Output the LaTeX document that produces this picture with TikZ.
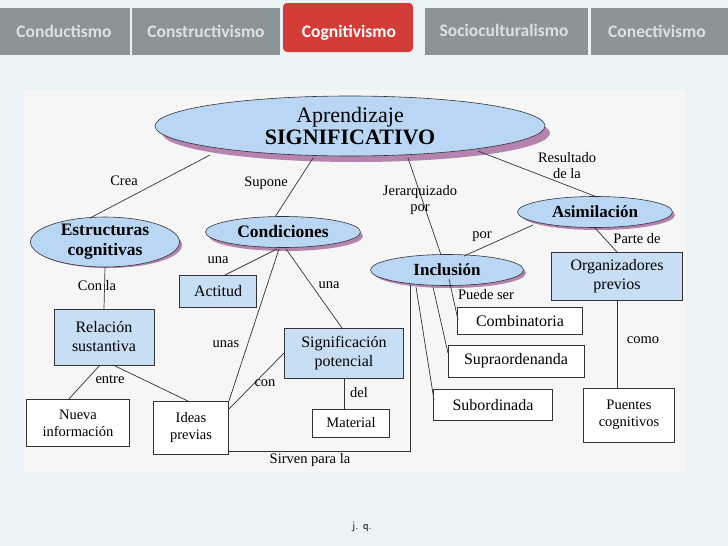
\documentclass[tikz,border=0pt]{standalone}
\usepackage{fontspec}
\setmainfont{Liberation Serif}
\newfontfamily\tabfont{Carlito}
\usetikzlibrary{shapes.geometric}
\definecolor{bg}{HTML}{EAF4F6}
\definecolor{card}{HTML}{F6F6F6}
\definecolor{tabg}{HTML}{8C9595}
\definecolor{tabtxt}{HTML}{DCE2E2}
\definecolor{tabred}{HTML}{D43C38}
\definecolor{ellf}{HTML}{B9D7F4}
\definecolor{recf}{HTML}{C8DEF5}
\definecolor{shad}{HTML}{B483AE}
\definecolor{ln}{HTML}{333333}
\begin{document}
\begin{tikzpicture}[x=1pt,y=-1pt,
  tab/.style={fill=tabg,draw=none},
  tabt/.style={font=\tabfont\bfseries\fontsize{17.5}{17}\selectfont,text=tabtxt},
  ell/.style={ellipse,draw=ln,fill=ellf,inner sep=0pt,line width=0.6pt},
  shd/.style={ellipse,fill=shad,draw=none,inner sep=0pt},
  bx/.style={draw=ln,fill=recf,line width=0.8pt,inner sep=0pt,align=center,font=\fontsize{16}{19}\selectfont},
  wbx/.style={draw=ln,fill=white,line width=0.8pt,inner sep=0pt,align=center,font=\fontsize{14.5}{17}\selectfont},
  lab/.style={font=\fontsize{14.5}{16}\selectfont,align=center,inner sep=0pt,fill=card},
  cn/.style={draw=ln,line width=0.7pt}]
\fill[bg] (0,0) rectangle (728,546);
\useasboundingbox (0,0) rectangle (728,546);
% tabs
\fill[tab] (0,8) rectangle (130,55);
\fill[tab] (132,8) rectangle (280,55);
\fill[tab] (425,8) rectangle (588,55);
\fill[tab] (591,8) rectangle (728,55);
\fill[tabred,rounded corners=4pt] (283,3) rectangle (413,52);
\node[tabt] (t1) at (64,31) {Conductismo};
\node[tabt] (t2) at (206,31) {Constructivismo};
\node[tabt,text=white] (t3) at (349,33) {Cognitivismo};
\node[tabt] (t4) at (504,30) {Socioculturalismo};
\node[tabt] (t5) at (657,31) {Conectivismo};
% card
\fill[card] (24,90) rectangle (686,472);
% ellipses
\node[shd,minimum width=388pt,minimum height=58pt] at (356,133) {};
\node[ell,minimum width=390pt,minimum height=60pt,align=center] (main) at (350,126)
  {\fontsize{22}{22}\selectfont Aprendizaje\\[1pt]\fontsize{22}{22}\selectfont\bfseries SIGNIFICATIVO};
\node[shd,minimum width=148pt,minimum height=46pt] at (108,245) {};
\node[ell,minimum width=149pt,minimum height=48pt,align=center,font=\bfseries\fontsize{17.5}{20}\selectfont] (est) at (105,242) {Estructuras\\cognitivas};
\node[shd,minimum width=154pt,minimum height=30pt] at (286,236) {};
\node[ell,minimum width=155pt,minimum height=31pt,font=\bfseries\fontsize{17.5}{20}\selectfont] (con) at (283,232) {Condiciones};
\node[shd,minimum width=154pt,minimum height=30pt] at (598,215) {};
\node[ell,minimum width=155pt,minimum height=31pt,font=\bfseries\fontsize{17}{20}\selectfont] (asi) at (595,212) {Asimilación};
\node[shd,minimum width=152pt,minimum height=30pt] at (450,273) {};
\node[ell,minimum width=153pt,minimum height=31pt,font=\bfseries\fontsize{17}{20}\selectfont] (inc) at (447,270) {Inclusión};
% boxes
\node[bx,minimum width=77pt,minimum height=32pt] (act) at (218,291) {Actitud};
\node[bx,minimum width=100pt,minimum height=56pt] (rel) at (104,337) {Relación\\sustantiva};
\node[wbx,minimum width=103pt,minimum height=47pt] (nue) at (78,423) {Nueva\\información};
\node[wbx,minimum width=75pt,minimum height=53pt] (ide) at (191,428) {Ideas\\previas};
\node[bx,minimum width=119pt,minimum height=50pt] (sig) at (344,353) {Significación\\potencial};
\node[wbx,minimum width=77pt,minimum height=28pt] (mat) at (351,423) {Material};
\node[bx,minimum width=131pt,minimum height=48pt] (org) at (617,276) {Organizadores\\previos};
\node[wbx,minimum width=125pt,minimum height=27pt,font=\fontsize{16}{18}\selectfont] (com) at (520,321) {Combinatoria};
\node[wbx,minimum width=136pt,minimum height=32pt,font=\fontsize{16}{18}\selectfont] (sup) at (516,361) {Supraordenanda};
\node[wbx,minimum width=119pt,minimum height=31pt,font=\fontsize{16}{18}\selectfont] (sub) at (493,405) {Subordinada};
\node[wbx,minimum width=91pt,minimum height=54pt] (pue) at (629,415) {Puentes\\cognitivos};
% connectors
\path (210,155) coordinate (m1) (313,158) coordinate (m2) (408,158) coordinate (m3) (478,151) coordinate (m4);
\draw[cn] (m1) -- (90,218);
\draw[cn] (m2) -- (275,217);
\draw[cn] (m3) -- (441,255);
\draw[cn] (m4) -- (597,197);
\draw[cn] (533,225) -- (464,256);
\draw[cn] (595,228) -- (617,252);
\draw[cn] (est.south) -- (rel.north);
\draw[cn] (277,249) -- (225,275);
\draw[cn] (279,249) -- (ide.north east);
\draw[cn] (286,249) -- (342,328);
\draw[cn] (sig.west) -- (228,410);
\draw[cn] (sig.south) -- (mat.north -| sig.south);
\draw[cn] (100,365) -- (68,400);
\draw[cn] (113,365) -- (190,402);
\draw[cn] (229,451) -- (410,451) -- (410,285);
\draw[cn] (449,279) -- (458,320);
\draw[cn] (433,287) -- (448,353);
\draw[cn] (416,287) -- (434,400);
\draw[cn] (org.south) -- (pue.north -| org.south);
% labels
\node[lab] (l1) at (124,181) {Crea};
\node[lab] (l2) at (266,183) {Supone};
\node[lab,fill=none] (l3) at (420,200) {Jerarquizado\\por};
\node[lab,fill=none] (l4) at (567,166) {Resultado\\de la};
\node[lab] (l5) at (482,237) {por};
\node[lab,fill=none] (l6) at (637,239) {Parte de};
\node[lab,fill=none] (l7) at (97,286) {Con la};
\node[lab] (l8) at (218,260) {una};
\node[lab] (l9) at (329,285) {una};
\node[lab] (l10) at (226,344) {unas};
\node[lab,fill=none] (l11) at (265,383) {con};
\node[lab] (l12) at (359,393) {del};
\node[lab] (l13) at (110,379) {entre};
\node[lab,fill=none] (l14) at (486,295) {Puede ser};
\node[lab] (l15) at (643,340) {como};
\node[lab] (l16) at (310,460) {Sirven para la};
\node[font=\sffamily\fontsize{11}{12}\selectfont] (jq) at (362,527) {j. q.};
\end{tikzpicture}
\end{document}
